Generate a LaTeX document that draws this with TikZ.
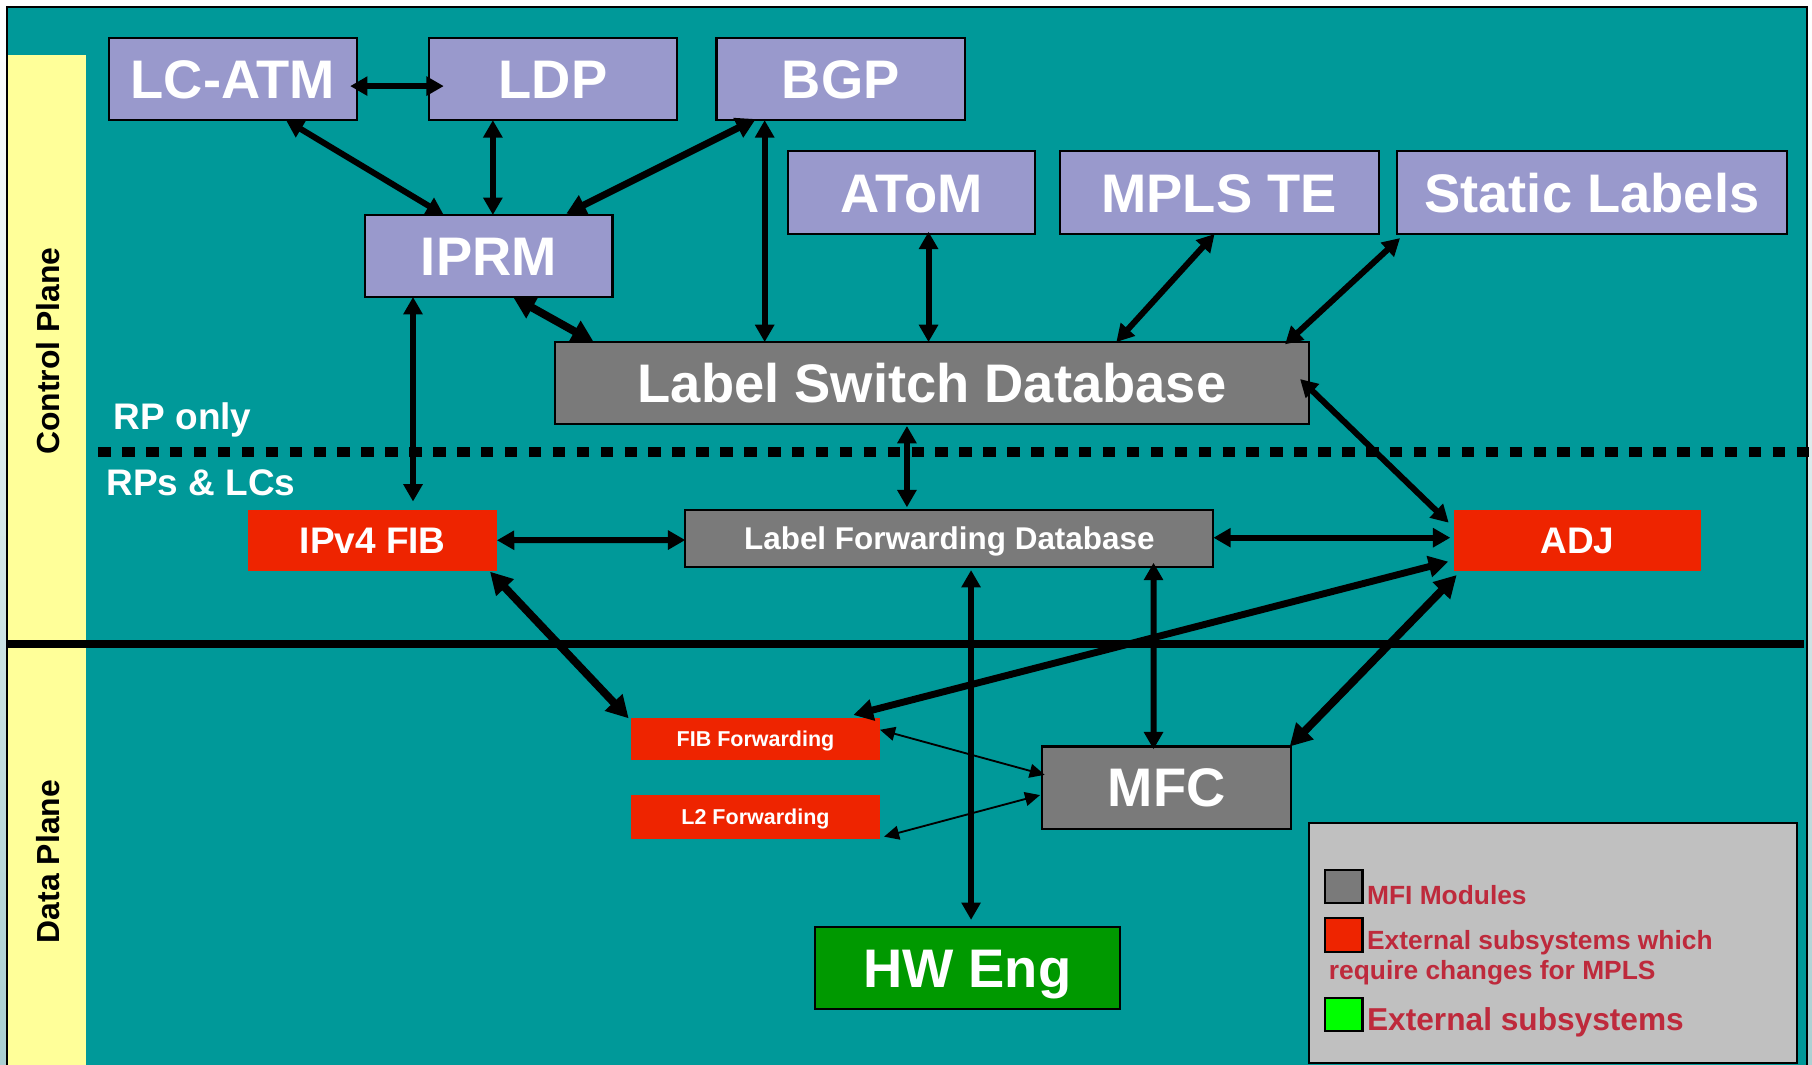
\documentclass[tikz,border=0pt]{standalone}
\usepackage{fontspec}
\setmainfont{Liberation Sans}
\usetikzlibrary{arrows.meta,calc,fit}

\definecolor{teal0}{RGB}{0,153,153}
\definecolor{lav}{RGB}{153,153,204}
\definecolor{gbox}{RGB}{122,122,122}
\definecolor{rbox}{RGB}{238,36,0}
\definecolor{grbox}{RGB}{0,153,0}
\definecolor{lgreen}{RGB}{0,255,0}
\definecolor{ylw}{RGB}{255,255,153}
\definecolor{lgray}{RGB}{192,192,192}
\definecolor{legtxt}{RGB}{190,42,60}
\definecolor{sidebg}{RGB}{170,208,210}

\tikzset{
 box/.style={inner sep=0pt, outer sep=0pt},
 lavbox/.style={box, fill=lav, draw=black, line width=0.9pt},
 graybox/.style={box, fill=gbox, draw=black, line width=0.9pt},
 redbox/.style={box, fill=rbox},
 greenbox/.style={box, fill=grbox, draw=black, line width=0.9pt},
 btxt/.style={inner sep=0pt, outer sep=0pt, text=white, anchor=center, text depth=0pt},
 big/.style={btxt, font=\bfseries\fontsize{23.5}{28}\selectfont, text height=16.8pt},
 mid/.style={btxt, font=\bfseries\fontsize{16}{19}\selectfont, text height=11.5pt},
 lfdf/.style={btxt, font=\bfseries\fontsize{13.6}{16}\selectfont, text height=9.7pt},
 small/.style={btxt, font=\bfseries\fontsize{9.3}{11}\selectfont, text height=6.7pt},
 conn/.style={line width=2.6pt, {Triangle[length=7.5pt,width=8pt]}-{Triangle[length=7.5pt,width=8pt]}},
 medconn/.style={line width=3pt, {Triangle[length=8.5pt,width=9pt]}-{Triangle[length=8.5pt,width=9pt]}},
 thickconn/.style={line width=3.4pt, {Triangle[length=9.5pt,width=10pt]}-{Triangle[length=9.5pt,width=10pt]}},
 thinconn/.style={line width=0.8pt, {Triangle[length=6.5pt,width=6pt]}-{Triangle[length=6.5pt,width=6pt]}},
 plain/.style={inner sep=0pt, outer sep=0pt, anchor=base west},
 legsq/.style={inner sep=0pt, outer sep=0pt, draw=black, line width=0.9pt},
 legt/.style={plain, text=legtxt, font=\bfseries\fontsize{11.4}{13}\selectfont},
}

\begin{document}
\begin{tikzpicture}[x=0.5pt, y=-0.5pt]
\useasboundingbox (0,0) rectangle (1568,921);
\clip (0,0) rectangle (1568,921);
% background and frame
\fill[white] (0,0) rectangle (1568,921);
\shade[top color=white, bottom color=sidebg] (0,5) rectangle (6.3,921);
\shade[top color=white, bottom color=sidebg] (1563.4,5) rectangle (1568,921);
\fill[teal0] (6.3,5.8) rectangle (1563.4,930);
\draw[line width=1pt] (6.3,930) -- (6.3,5.8) -- (1563.4,5.8) -- (1563.4,930);
\fill[ylw] (7,47.6) rectangle (74.4,930);

% separators
\draw[line width=3.6pt] (6.3,557.3) -- (1561,557.3);
\draw[line width=4.6pt, dash pattern=on 5.4pt off 4.95pt] (85,391) -- (1568,391);

% side labels
\node[rotate=90, inner sep=0pt, font=\bfseries\fontsize{13.8}{16}\selectfont] (cp) at (41.5,304) {Control Plane};
\node[rotate=90, inner sep=0pt, font=\bfseries\fontsize{13.8}{16}\selectfont] (dp) at (41.5,745.5) {Data Plane};
\node[plain, text=white, font=\bfseries\fontsize{16}{19}\selectfont] (rponly) at (98.5,371.5) {RP only};
\node[plain, text=white, font=\bfseries\fontsize{16}{19}\selectfont] (rplc) at (92,428.4) {RPs \& LCs};

% boxes
\node[lavbox, fit={(94,33) (309,104)}] (lcatm) {};
\node[lavbox, fit={(371,33) (586,104)}] (ldp) {};
\node[lavbox, fit={(620,33) (835,104)}] (bgp) {};
\node[lavbox, fit={(316,186) (530,257)}] (iprm) {};
\node[lavbox, fit={(682,131) (896,202.5)}] (atom) {};
\node[lavbox, fit={(917,131) (1193,202.5)}] (mplste) {};
\node[lavbox, fit={(1209,131) (1546,202.5)}] (static) {};
\node[graybox, fit={(480,296) (1133,367)}] (lsd) {};
\node[redbox, fit={(215,441) (430,494)}] (ipv4) {};
\node[graybox, fit={(593,441) (1050,491)}] (lfd) {};
\node[redbox, fit={(1258,441) (1472,494)}] (adj) {};
\node[redbox, fit={(546,621) (761.5,658)}] (fibfwd) {};
\node[redbox, fit={(546,688) (761.5,726)}] (l2fwd) {};
\node[graybox, fit={(902,646) (1117,717)}] (mfc) {};
\node[greenbox, fit={(705,802) (969,873)}] (hweng) {};

% box texts
\node[big] (lcatmt) at (lcatm.center) {LC-ATM};
\node[big] (ldpt) at (ldp.center) {LDP};
\node[big] (bgpt) at (bgp.center) {BGP};
\node[big] (iprmt) at (iprm.center) {IPRM};
\node[big] (atomt) at (atom.center) {AToM};
\node[big] (mplstet) at (mplste.center) {MPLS TE};
\node[big] (statict) at (static.center) {Static Labels};
\node[big] (lsdt) at (lsd.center) {Label Switch Database};
\node[mid] (ipv4t) at (ipv4.center) {IPv4 FIB};
\node[lfdf] (lfdt) at (lfd.center) {Label Forwarding Database};
\node[mid] (adjt) at (adj.center) {ADJ};
\node[small] (fibfwdt) at (fibfwd.center) {FIB Forwarding};
\node[small] (l2fwdt) at (l2fwd.center) {L2 Forwarding};
\node[big] (mfct) at (mfc.center) {MFC};
\node[big] (hwengt) at (hweng.center) {HW Eng};

% legend
\node[inner sep=0pt, outer sep=0pt, fill=lgray, draw=black, line width=1pt, fit={(1133,712) (1555,920)}] (legend) {};
\node[legsq, fill=gbox, fit={(1146.3,753.2) (1179,781.7)}] (sqg) {};
\node[legsq, fill=rbox, fit={(1146.3,794.7) (1179,823.5)}] (sqr) {};
\node[legsq, fill=lgreen, fit={(1146.3,863.9) (1179,892.2)}] (sqgr) {};
\node[legt] (lt1) at (1183,783) {MFI Modules};
\node[legt] (lt2) at (1183,822) {External subsystems which};
\node[legt] (lt3) at (1150,848) {require changes for MPLS};
\node[legt, font=\bfseries\fontsize{13.7}{16}\selectfont] (lt4) at (1183,892) {External subsystems};

% connectors
\draw[conn] ($(lcatm.east)+(-6,6)$) -- ($(ldp.west)+(13,6)$);
\draw[conn] ($(lcatm.south)+(46,0)$) -- ($(iprm.north)+(-39,0)$);
\draw[conn] ($(ldp.south)+(-52,0)$) -- ($(iprm.north)+(3.5,0)$);
\draw[medconn] ($(bgp.south)+(-73.5,-1)$) -- ($(iprm.north)+(67,-1)$);
\draw[conn] ($(bgp.south)+(-65.8,0)$) -- ($(lsd.north)+(-144.8,0)$);
\draw[conn] ($(atom.south)+(14.5,-2)$) -- ($(lsd.north)+(-3,0)$);
\draw[conn] ($(mplste.south)+(-4,0)$) -- ($(lsd.north)+(159.5,0)$);
\draw[conn] ($(static.south west)+(2.5,3.5)$) -- ($(lsd.north)+(305.5,2)$);
\draw[thickconn] ($(iprm.south)+(21,0)$) -- ($(lsd.north)+(-292.7,0)$);
\draw[conn] ($(iprm.south)+(-65.6,0)$) -- ($(ipv4.north)+(34.9,-7)$);
\draw[conn] ($(lsd.south)+(-21.7,1.6)$) -- ($(lfd.north)+(-36.7,-2)$);
\draw[conn] (ipv4.east) -- ($(lfd.west)+(0,1.3)$);
\draw[conn] ($(lfd.east)+(0,-0.7)$) -- ($(adj.west)+(-3,-2.2)$);
\draw[conn] ($(lsd.east)+(-8,-3.5)$) -- ($(adj.north west)+(-4.4,11.3)$);
\draw[conn] ($(lfd.south)+(18.8,2.3)$) -- ($(hweng.north)+(3.3,-6)$);
\draw[conn] ($(lfd.south)+(176.7,-4)$) -- ($(mfc.north)+(-11.3,2.4)$);
\draw[medconn] ($(adj.west)+(-4.7,18.5)$) -- ($(fibfwd.north east)+(-23,-2.3)$);
\draw[thickconn] ($(adj.south west)+(2.5,3.6)$) -- ($(mfc.north east)+(-1,0)$);
\draw[thickconn] ($(ipv4.south east)+(-6,0.7)$) -- ($(fibfwd.north west)+(-2,0.6)$);
\draw[thinconn] ($(fibfwd.east)+(0,-8)$) -- ($(mfc.west)+(2,-11)$);
\draw[thinconn] ($(l2fwd.east)+(3.5,17)$) -- ($(mfc.west)+(-2,6.5)$);
\end{tikzpicture}
\end{document}
